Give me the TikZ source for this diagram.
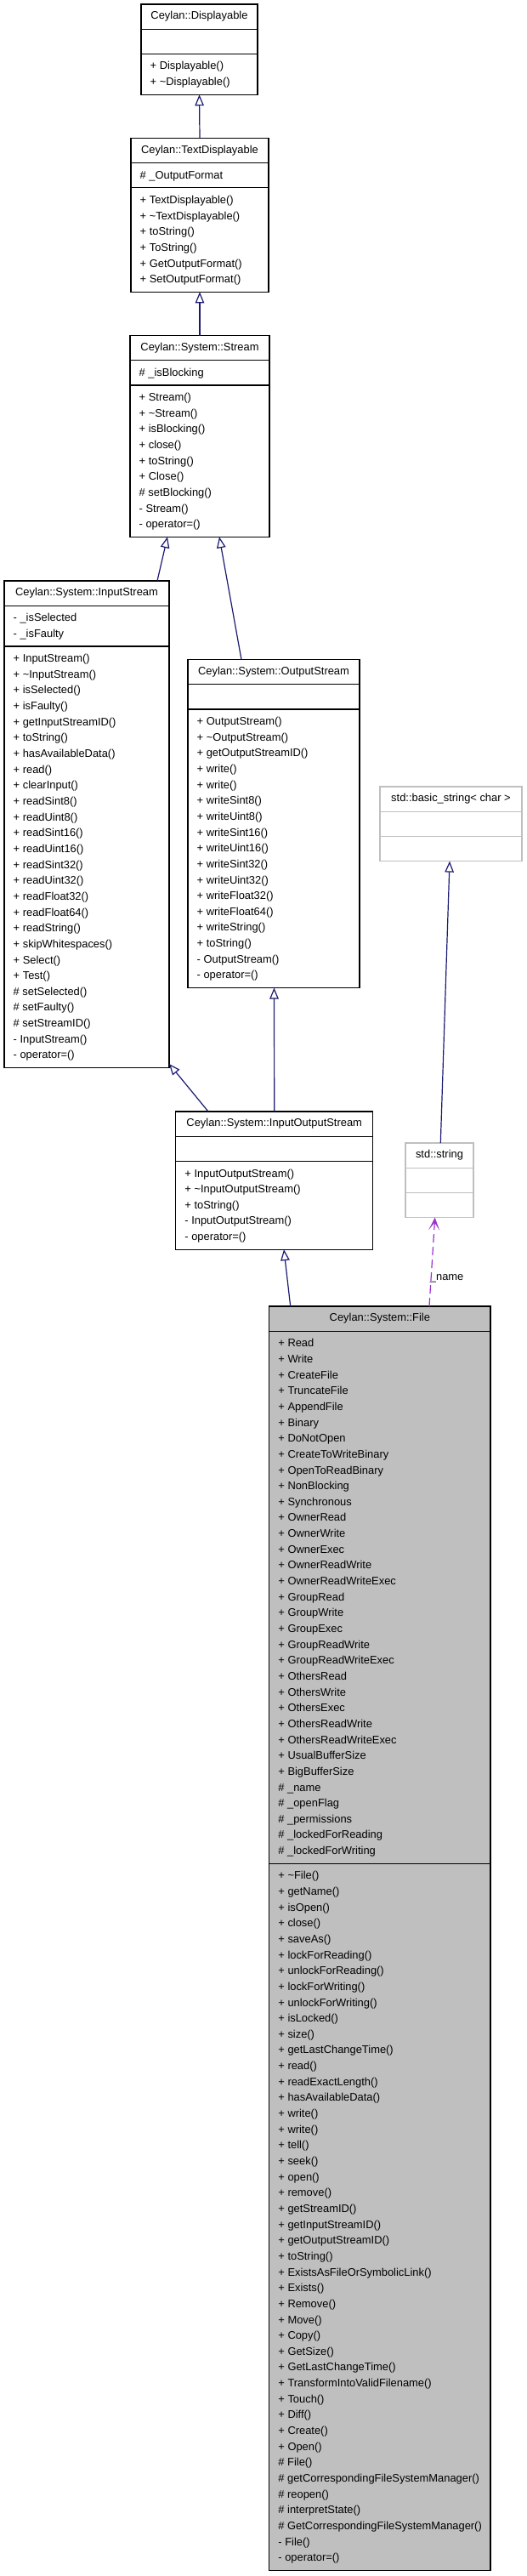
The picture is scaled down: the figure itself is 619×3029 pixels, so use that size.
\documentclass[tikz,border=0pt]{standalone}
\usepackage{fontspec}
\setmainfont{Liberation Sans}
\usetikzlibrary{arrows.meta,calc}
\definecolor{edgeblue}{HTML}{191970}
\definecolor{usepurple}{HTML}{9A32CD}
\definecolor{greyfill}{HTML}{BFBFBF}
\newcommand{\umlfont}{\fontsize{12.9}{15}\selectfont}
\newcommand{\clines}[3]{%
  \foreach \mtext [count=\i from 0] in {#3} {%
    \node[member] at ($(#1.north west)+(10.5,{#2+18.6+\i*18.65})$) {\mtext};%
  }%
}
\newcommand{\csep}[3][black]{%
  \draw[line width=1.2pt,draw=#1] ($(#2.north west)+(0,#3)$) -- ($(#2.north east)+(0,#3)$);%
}
\newcommand{\ctitle}[2]{\node[classtitle] at ($(#1.north)+(0,17.9)$) {#2};}
\begin{document}
\begin{tikzpicture}[x=1pt,y=-1pt,
  classbox/.style={draw=black, line width=1.2pt, fill=white, rectangle, inner sep=0pt, outer sep=0pt, anchor=north west},
  extbox/.style={classbox, draw=greyfill},
  curbox/.style={classbox, fill=greyfill},
  member/.style={anchor=base west, inner sep=0pt, font=\umlfont},
  classtitle/.style={anchor=base, inner sep=0pt, font=\umlfont},
  inherit/.style={draw=edgeblue, line width=1.2pt, -{Triangle[open, length=13pt, width=10.5pt]}},
  usage/.style={draw=usepurple, line width=1.2pt, dash pattern=on 10pt off 5pt, -{Stealth[length=15pt, width=13pt, inset=9pt]}},
  edgelabel/.style={anchor=base west, inner sep=0pt, font=\umlfont}
]
\useasboundingbox (0,0) rectangle (619,3029);

% ---------- boxes ----------
\node[classbox, minimum width=137pt, minimum height=106.25pt] (disp) at (166,5) {};
\node[classbox, minimum width=162pt, minimum height=180.85pt] (txt) at (154,162.5) {};
\node[classbox, minimum width=164pt, minimum height=236.8pt] (stream) at (153,394.5) {};
\node[classbox, minimum width=194pt, minimum height=572.5pt] (is) at (5,683) {};
\node[classbox, minimum width=202pt, minimum height=386pt] (os) at (221,775.5) {};
\node[classbox, minimum width=232pt, minimum height=162.2pt] (ios) at (206.7,1307) {};
\node[curbox, minimum width=260.3pt, minimum height=1486.35pt] (file) at (316.7,1536) {};
\node[extbox, minimum width=167pt, minimum height=87.6pt] (bs) at (447,925) {};
\node[extbox, minimum width=80pt, minimum height=87.6pt] (str) at (477,1344) {};

% ---------- edges ----------
\draw[inherit] (txt.north) -- (disp.south);
\draw[inherit] (stream.north) -- (txt.south);
\draw[inherit] ($(is.north west)+(180,0)$) -- ($(stream.south west)+(44,0)$);
\draw[inherit] ($(os.north west)+(63,0)$) -- ($(stream.south west)+(105,0)$);
\draw[inherit] ($(ios.north west)+(38.3,0)$) -- ($(is.south east)+(0,-4.5)$);
\draw[inherit] (ios.north) -- ($(os.south west)+(101.5,0)$);
\draw[inherit] ($(file.north west)+(25,0)$) -- ($(ios.south west)+(127.3,0)$);
\draw[inherit] ($(str.north west)+(41.3,0)$) -- ($(bs.south west)+(82,0)$);
\draw[usage] ($(file.north west)+(188.3,0)$) -- ($(str.south west)+(34.7,0)$);
\node[edgelabel] (namelbl) at ($(file.north west)+(189,-30.5)$) {\_name};

% ---------- Ceylan::Displayable ----------
\ctitle{disp}{Ceylan::Displayable}
\csep{disp}{29.2}
\csep{disp}{58.4}
\clines{disp}{58.4}{+ Displayable(), + \textasciitilde Displayable()}

% ---------- Ceylan::TextDisplayable ----------
\ctitle{txt}{Ceylan::TextDisplayable}
\csep{txt}{29.2}
\csep{txt}{58.4}
\clines{txt}{29.2}{\# \_OutputFormat}
\clines{txt}{58.4}{+ TextDisplayable(), + \textasciitilde TextDisplayable(), + toString(), + ToString(), + GetOutputFormat(), + SetOutputFormat()}

% ---------- Ceylan::System::Stream ----------
\ctitle{stream}{Ceylan::System::Stream}
\csep{stream}{29.2}
\csep{stream}{58.4}
\clines{stream}{29.2}{\# \_isBlocking}
\clines{stream}{58.4}{+ Stream(), + \textasciitilde Stream(), + isBlocking(), + close(), + toString(), + Close(), \# setBlocking(), - Stream(), - operator=()}

% ---------- Ceylan::System::InputStream ----------
\ctitle{is}{Ceylan::System::InputStream}
\csep{is}{29.2}
\csep{is}{77.05}
\clines{is}{29.2}{- \_isSelected, - \_isFaulty}
\clines{is}{77.05}{+ InputStream(), + \textasciitilde InputStream(), + isSelected(), + isFaulty(), + getInputStreamID(), + toString(), + hasAvailableData(), + read(), + clearInput(), + readSint8(), + readUint8(), + readSint16(), + readUint16(), + readSint32(), + readUint32(), + readFloat32(), + readFloat64(), + readString(), + skipWhitespaces(), + Select(), + Test(), \# setSelected(), \# setFaulty(), \# setStreamID(), - InputStream(), - operator=()}

% ---------- Ceylan::System::OutputStream ----------
\ctitle{os}{Ceylan::System::OutputStream}
\csep{os}{29.2}
\csep{os}{58.4}
\clines{os}{58.4}{+ OutputStream(), + \textasciitilde OutputStream(), + getOutputStreamID(), + write(), + write(), + writeSint8(), + writeUint8(), + writeSint16(), + writeUint16(), + writeSint32(), + writeUint32(), + writeFloat32(), + writeFloat64(), + writeString(), + toString(), - OutputStream(), - operator=()}

% ---------- Ceylan::System::InputOutputStream ----------
\ctitle{ios}{Ceylan::System::InputOutputStream}
\csep{ios}{29.2}
\csep{ios}{58.4}
\clines{ios}{58.4}{+ InputOutputStream(), + \textasciitilde InputOutputStream(), + toString(), - InputOutputStream(), - operator=()}

% ---------- std::basic_string< char > ----------
\ctitle{bs}{std::basic\_string< char >}
\csep[greyfill]{bs}{29.2}
\csep[greyfill]{bs}{58.4}

% ---------- std::string ----------
\ctitle{str}{std::string}
\csep[greyfill]{str}{29.2}
\csep[greyfill]{str}{58.4}

% ---------- Ceylan::System::File ----------
\ctitle{file}{Ceylan::System::File}
\csep{file}{29.2}
\csep{file}{655.2}
\clines{file}{29.2}{+ Read, + Write, + CreateFile, + TruncateFile, + AppendFile, + Binary, + DoNotOpen, + CreateToWriteBinary, + OpenToReadBinary, + NonBlocking, + Synchronous, + OwnerRead, + OwnerWrite, + OwnerExec, + OwnerReadWrite, + OwnerReadWriteExec, + GroupRead, + GroupWrite, + GroupExec, + GroupReadWrite, + GroupReadWriteExec, + OthersRead, + OthersWrite, + OthersExec, + OthersReadWrite, + OthersReadWriteExec, + UsualBufferSize, + BigBufferSize, \# \_name, \# \_openFlag, \# \_permissions, \# \_lockedForReading, \# \_lockedForWriting}
\clines{file}{655.2}{+ \textasciitilde File(), + getName(), + isOpen(), + close(), + saveAs(), + lockForReading(), + unlockForReading(), + lockForWriting(), + unlockForWriting(), + isLocked(), + size(), + getLastChangeTime(), + read(), + readExactLength(), + hasAvailableData(), + write(), + write(), + tell(), + seek(), + open(), + remove(), + getStreamID(), + getInputStreamID(), + getOutputStreamID(), + toString(), + ExistsAsFileOrSymbolicLink(), + Exists(), + Remove(), + Move(), + Copy(), + GetSize(), + GetLastChangeTime(), + TransformIntoValidFilename(), + Touch(), + Diff(), + Create(), + Open(), \# File(), \# getCorrespondingFileSystemManager(), \# reopen(), \# interpretState(), \# GetCorrespondingFileSystemManager(), - File(), - operator=()}
\end{tikzpicture}
\end{document}
